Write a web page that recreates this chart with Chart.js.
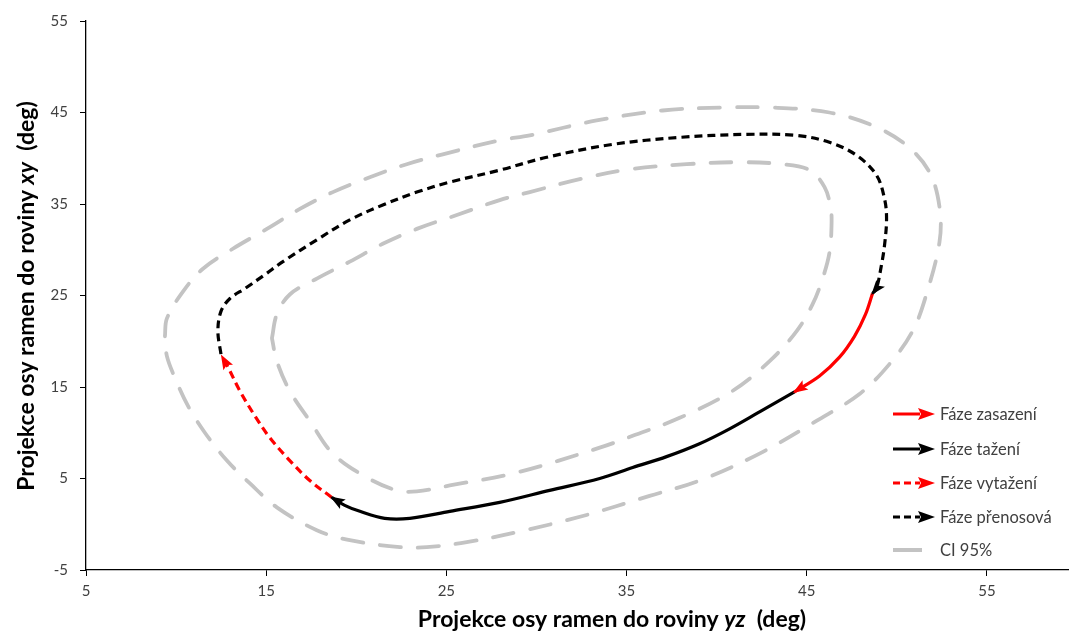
<!DOCTYPE html>
<html>
<head>
<meta charset="utf-8">
<script src="https://cdn.jsdelivr.net/npm/chart.js@4/dist/chart.umd.min.js"></script>
<style>
  body { margin: 0; background: #fff; }
  #wrap { width: 1070px; height: 633px; }
</style>
</head>
<body>
<div id="wrap"><canvas id="graf" width="1070" height="633"></canvas></div>
<script>
// hodnoty (x = rovina yz, y = rovina xy), stupne
const fazeZasazeni = [[48.65,25.22],[48.26,22.93],[47.65,20.54],[46.82,18.26],[45.71,16.2],[44.32,14.46]];
const fazeTazeni = [[44.32,14.46],[42.38,12.28],[40.72,10.43],[39.05,8.8],[37.22,7.39],[35.34,6.2],[33.51,5.0],
  [30.73,3.7],[27.96,2.39],[25.19,1.41],[22.97,0.65],[21.58,0.65],[20.2,1.41],[19.36,2.07],[18.64,2.93]];
const fazeVytazeni = [[18.64,2.93],[17.42,4.78],[16.31,6.96],[15.2,9.46],[14.37,11.85],[13.54,14.57],
  [12.88,17.17],[12.54,18.37]];
const fazePrenosova = [[12.49,18.59],[12.32,21.09],[12.49,23.26],[12.99,24.67],[13.82,25.76],[14.93,27.28],
  [15.93,28.7],[17.81,31.09],[19.64,33.26],[21.47,34.89],[23.36,36.3],[25.19,37.39],[27.96,38.7],[30.57,40.11],
  [34.23,41.52],[37.95,42.28],[41.66,42.61],[44.43,42.5],[46.26,41.74],[47.76,40.33],[48.87,38.15],
  [49.32,35.54],[49.43,33.37],[49.32,30.54],[49.15,28.37],[48.87,25.76],[48.65,25.22]];
const ciVnejsi = [[9.38,20.54],[9.49,22.5],[10.38,25.43],[11.49,27.93],[13.15,30.11],[15.04,32.28],
  [16.87,34.46],[18.7,36.3],[20.75,37.93],[22.8,39.35],[24.8,40.43],[27.96,41.96],[29.63,42.5],
  [33.34,44.13],[37.0,45.22],[40.33,45.54],[43.1,45.54],[46.26,45.0],[48.65,43.59],[50.54,41.41],
  [51.81,38.48],[52.37,34.67],[52.37,30.87],[51.64,25.11],[50.87,21.09],[49.59,17.5],[47.93,14.24],
  [45.54,11.3],[42.38,7.72],[39.05,4.78],[36.28,3.1],[32.57,0.9],[28.9,-0.87],[26.13,-1.96],
  [23.91,-2.5],[22.42,-2.5],[19.64,-1.74],[17.81,-0.65],[15.59,1.85],[14.1,4.46],[12.82,6.96],
  [11.6,10.0],[10.66,12.93],[9.94,15.98],[9.49,18.37],[9.38,20.54]];
const ciVnitrni = [[15.32,20.33],[15.59,22.93],[16.31,25.11],[17.81,26.85],[19.64,28.7],[21.47,30.65],
  [23.36,32.28],[25.58,33.8],[27.96,35.43],[29.63,36.3],[32.4,37.72],[35.17,38.8],[38.33,39.35],
  [41.27,39.57],[43.66,39.35],[45.16,38.7],[45.99,36.85],[46.32,34.67],[46.38,33.04],[46.27,29.78],
  [45.88,26.85],[45.32,24.02],[44.43,21.09],[42.94,17.83],[40.88,14.57],[37.95,11.63],[35.34,9.67],
  [33.51,8.37],[28.9,5.65],[25.19,4.24],[23.36,3.59],[22.25,3.7],[20.59,5.11],[18.7,7.72],
  [17.42,11.3],[16.31,14.57],[15.59,17.83],[15.32,20.33]];

const xTicks = [5, 15, 25, 35, 45, 55];
const yTicks = [-5, 5, 15, 25, 35, 45, 55];
const legendaTexty = ['Fáze zasazení', 'Fáze tažení', 'Fáze vytažení', 'Fáze přenosová', 'CI 95%'];

const body = arr => arr.map(p => ({ x: p[0], y: p[1] }));
const SEDA = '#c3c3c3';

function serie(data, barva, carka, sipka) {
  return {
    data: body(data), showLine: true, pointRadius: 0, borderColor: barva, borderWidth: 3.2,
    borderDash: carka, tension: 0.35, order: 1, sipka: sipka
  };
}

// sipky na konci fazi + legenda + popisky os
const kresleniPlugin = {
  id: 'kresleni',
  afterDatasetsDraw(chart) {
    const ctx = chart.ctx;
    chart.data.datasets.forEach((ds, i) => {
      if (!ds.sipka) return;
      const pts = chart.getDatasetMeta(i).data;
      const a = pts[pts.length - 2], b = pts[pts.length - 1];
      sipka(ctx, a.x, a.y, b.x, b.y, ds.borderColor, 13, 5.5);
    });
  },
  afterDraw(chart) {
    const ctx = chart.ctx;
    ctx.save();
    // legenda
    const radky = [414, 449, 483, 517, 550];
    const styly = [['#ff0000', []], ['#000', []], ['#ff0000', [7, 4]], ['#000', [7, 4]]];
    ctx.font = '16.5px Lato';
    ctx.fillStyle = '#404040';
    ctx.textBaseline = 'middle';
    radky.forEach((y, i) => {
      ctx.save();
      if (i < 4) {
        ctx.strokeStyle = styly[i][0];
        ctx.lineWidth = 3;
        ctx.setLineDash(styly[i][1]);
        ctx.beginPath(); ctx.moveTo(893, y); ctx.lineTo(920, y); ctx.stroke();
        ctx.setLineDash([]);
        sipka(ctx, 893, y, 933, y, styly[i][0], 15, 6);
      } else {
        ctx.strokeStyle = SEDA; ctx.lineWidth = 4;
        ctx.beginPath(); ctx.moveTo(893, y); ctx.lineTo(922, y); ctx.stroke();
      }
      ctx.restore();
      ctx.fillText(legendaTexty[i], 940, y + 1);
    });
    // popisky os
    ctx.fillStyle = '#000';
    popisek(ctx, 612, 620, 0, ['Projekce osy ramen do roviny ', 'yz', '  (deg)']);
    popisek(ctx, 27, 296, -Math.PI / 2, ['Projekce osy ramen do roviny ', 'xy', '  (deg)']);
    ctx.restore();
  }
};

function sipka(ctx, x0, y0, x1, y1, barva, delka, sirka) {
  const ang = Math.atan2(y1 - y0, x1 - x0);
  ctx.save();
  ctx.translate(x1, y1);
  ctx.rotate(ang);
  ctx.fillStyle = barva;
  ctx.beginPath();
  ctx.moveTo(2, 0);
  ctx.lineTo(-delka, -sirka);
  ctx.lineTo(-delka + 3, 0);
  ctx.lineTo(-delka, sirka);
  ctx.closePath();
  ctx.fill();
  ctx.restore();
}

function popisek(ctx, cx, cy, rot, casti) {
  const fonty = ['bold 23px Lato', 'italic bold 23px Lato', 'bold 23px Lato'];
  let w = 0;
  casti.forEach((t, i) => { ctx.font = fonty[i]; w += ctx.measureText(t).width; });
  ctx.save();
  ctx.translate(cx, cy);
  ctx.rotate(rot);
  ctx.textBaseline = 'middle';
  ctx.textAlign = 'left';
  let x = -w / 2;
  casti.forEach((t, i) => { ctx.font = fonty[i]; ctx.fillText(t, x, 0); x += ctx.measureText(t).width; });
  ctx.restore();
}

const ciStyl = { showLine: true, pointRadius: 0, borderColor: SEDA, borderWidth: 3.8, borderDash: [21, 17],
  borderCapStyle: 'round', tension: 0.35, order: 5 };

new Chart(document.getElementById('graf'), {
  type: 'scatter',
  data: {
    datasets: [
      serie(fazeZasazeni, '#ff0000', [], true),
      serie(fazeTazeni, '#000000', [], true),
      serie(fazeVytazeni, '#ff0000', [8, 5], true),
      serie(fazePrenosova, '#000000', [8, 5], true),
      Object.assign({ data: body(ciVnejsi) }, ciStyl),
      Object.assign({ data: body(ciVnitrni) }, ciStyl)
    ]
  },
  options: {
    responsive: false,
    animation: false,
    layout: { padding: { top: 18, right: 2, left: 0, bottom: 0 } },
    plugins: { legend: { display: false }, tooltip: { enabled: false } },
    scales: {
      x: {
        type: 'linear', min: 5, max: 59.5,
        afterBuildTicks: s => { s.ticks = xTicks.map(v => ({ value: v })); },
        afterFit: s => { s.height = 63; },
        grid: { drawOnChartArea: false, color: '#000', tickLength: 6 },
        border: { color: '#000', width: 1.3 },
        ticks: { font: { family: 'Lato', size: 15 }, color: '#404040', padding: 6, maxRotation: 0 }
      },
      y: {
        type: 'linear', min: -5, max: 55,
        afterBuildTicks: s => { s.ticks = yTicks.map(v => ({ value: v })); },
        afterFit: s => { s.width = 86; },
        grid: { drawOnChartArea: false, color: '#000', tickLength: 6 },
        border: { color: '#000', width: 1.3 },
        ticks: { font: { family: 'Lato', size: 15 }, color: '#404040', padding: 12 }
      }
    }
  },
  plugins: [kresleniPlugin]
});
</script>
</body>
</html>
